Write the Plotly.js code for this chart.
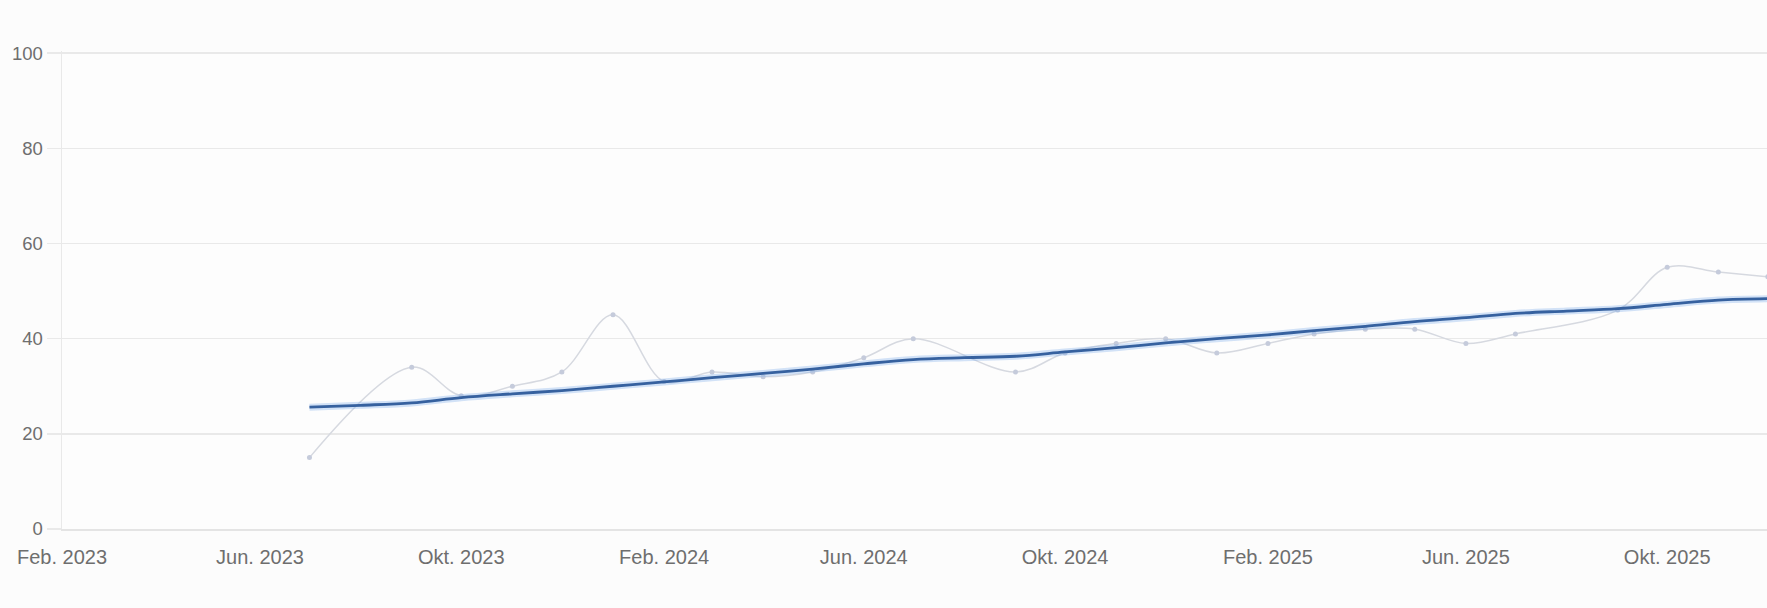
<!DOCTYPE html>
<html>
<head>
<meta charset="utf-8">
<script src="https://cdn.plot.ly/plotly-3.0.1.min.js"></script>
<style>
  html, body { margin: 0; padding: 0; background: #fcfcfc; }
  #chart { width: 1767px; height: 608px; }
</style>
</head>
<body>
<div id="chart"></div>
<script>
// Monthly dates (first of month)
const months = [
  '2023-07-01','2023-08-01','2023-09-01','2023-10-01','2023-11-01','2023-12-01',
  '2024-01-01','2024-02-01','2024-03-01','2024-04-01','2024-05-01','2024-06-01',
  '2024-07-01','2024-08-01','2024-09-01','2024-10-01','2024-11-01','2024-12-01',
  '2025-01-01','2025-02-01','2025-03-01','2025-04-01','2025-05-01','2025-06-01',
  '2025-07-01','2025-08-01','2025-09-01','2025-10-01','2025-11-01','2025-12-01'
];
// Raw monthly values (light gray line with points); null = no point
const rawValues = [
  15, null, 34, 28, 30, 33,
  45, 31, 33, 32, 33, 36,
  40, null, 33, 37, 39, 40,
  37, 39, 41, 42, 42, 39,
  41, null, 46, 55, 54, 53
];
// Trend values (dark blue smooth line)
const trendValues = [
  25.6, 26.0, 26.5, 27.6, 28.4, 29.1,
  30.0, 30.9, 31.8, 32.7, 33.6, 34.7,
  35.6, 36.0, 36.3, 37.2, 38.1, 39.1,
  40.0, 40.8, 41.7, 42.6, 43.6, 44.4,
  45.3, 45.8, 46.3, 47.2, 48.1, 48.4
];
// X tick labels
const tickDates = ['2023-02-01','2023-06-01','2023-10-01','2024-02-01','2024-06-01','2024-10-01','2025-02-01','2025-06-01','2025-10-01'];
const tickLabels = ['Feb. 2023','Jun. 2023','Okt. 2023','Feb. 2024','Jun. 2024','Okt. 2024','Feb. 2025','Jun. 2025','Okt. 2025'];
const yTicks = [0, 20, 40, 60, 80, 100];

const traces = [
  {
    x: months, y: rawValues, type: 'scatter', mode: 'lines+markers',
    connectgaps: true,
    line: { color: '#d6d9e0', width: 1.5, shape: 'spline', smoothing: 1 },
    marker: { color: '#c5cbdb', size: 5 },
    hoverinfo: 'x+y', showlegend: false
  },
  {
    x: months, y: trendValues, type: 'scatter', mode: 'lines',
    line: { color: 'rgba(130,175,235,0.35)', width: 7, shape: 'spline', smoothing: 1 },
    hoverinfo: 'skip', showlegend: false
  },
  {
    x: months, y: trendValues, type: 'scatter', mode: 'lines',
    line: { color: '#36619f', width: 2.8, shape: 'spline', smoothing: 1 },
    hoverinfo: 'x+y', showlegend: false
  }
];

const layout = {
  width: 1767, height: 608,
  margin: { l: 62, r: 0, t: 51, b: 79 },
  paper_bgcolor: '#fcfcfc',
  plot_bgcolor: '#fdfdfd',
  font: { family: '"Liberation Sans", Arial, sans-serif', color: '#6e6e6e', size: 19 },
  showlegend: false,
  xaxis: {
    type: 'date',
    range: ['2023-02-01', '2025-11-30 12:00'],
    tickmode: 'array', tickvals: tickDates, ticktext: tickLabels,
    showgrid: false, zeroline: false,
    showline: true, linecolor: '#e4e4e4', linewidth: 2,
    ticks: 'outside', ticklen: 9, tickcolor: 'rgba(0,0,0,0)',
    tickfont: { size: 20, color: '#6e6e6e' }
  },
  yaxis: {
    range: [0, 100.45],
    tickmode: 'array', tickvals: yTicks,
    showgrid: true, gridcolor: '#e9e9e9', gridwidth: 1.5,
    zeroline: false,
    showline: true, linecolor: '#e9e9e9', linewidth: 1.5,
    ticks: 'outside', ticklen: 14, tickcolor: '#e9e9e9', tickwidth: 1.5,
    tickfont: { size: 18.5, color: '#6e6e6e' }
  }
};

Plotly.newPlot('chart', traces, layout, { displayModeBar: false, staticPlot: true });
</script>
</body>
</html>
